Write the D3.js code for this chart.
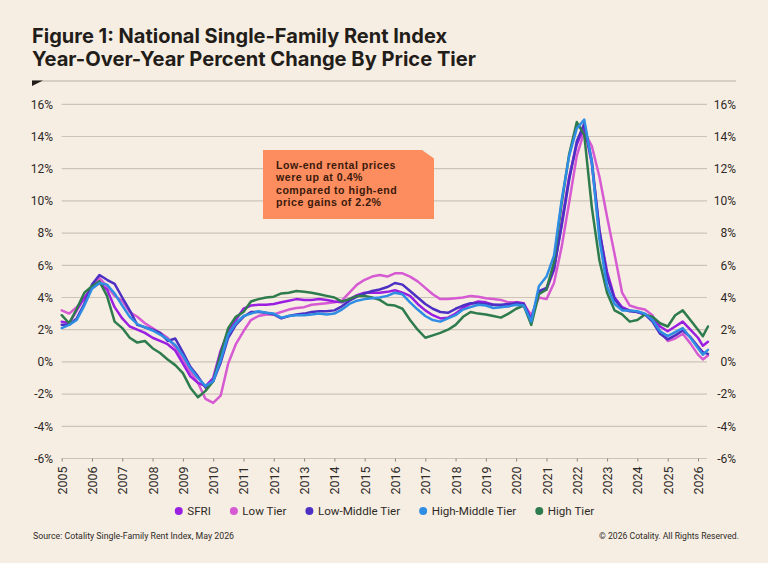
<!DOCTYPE html>
<html lang="en">
<head>
<meta charset="UTF-8">
<title>National Single-Family Rent Index - YoY by Price Tier</title>
<script src="https://d3js.org/d3.v7.min.js"></script>
<style>
  body { margin: 0; background: #f7eee3; }
  svg { display: block; }
  .title { font-family: Inter, "Liberation Sans", sans-serif; font-weight: 700; font-size: 20px; fill: #231d19; }
  .ylab { font-family: Roboto, "Liberation Sans", sans-serif; font-size: 12px; fill: #2e2a27; }
  .xlab text { font-family: Roboto, "Liberation Sans", sans-serif; font-size: 12.5px; fill: #2e2a27; }
  .legend { font-family: Roboto, "Liberation Sans", sans-serif; font-size: 11.6px; fill: #2e2a27; }
  .foot { font-family: Roboto, "Liberation Sans", sans-serif; font-size: 9.5px; fill: #2e2a27; }
  .note { font-family: "Liberation Sans", Arial, sans-serif; font-weight: 700; font-size: 10.6px; letter-spacing: 0.5px; fill: #3a1a0c; }
</style>
</head>
<body>
<div id="chart"></div>
<script>
// quarterly readings, last two points are Mar and May 2026
const months = [
  "2005-01","2005-04","2005-07","2005-10",
  "2006-01","2006-04","2006-07","2006-10",
  "2007-01","2007-04","2007-07","2007-10",
  "2008-01","2008-04","2008-07","2008-10",
  "2009-01","2009-04","2009-07","2009-10",
  "2010-01","2010-04","2010-07","2010-10",
  "2011-01","2011-04","2011-07","2011-10",
  "2012-01","2012-04","2012-07","2012-10",
  "2013-01","2013-04","2013-07","2013-10",
  "2014-01","2014-04","2014-07","2014-10",
  "2015-01","2015-04","2015-07","2015-10",
  "2016-01","2016-04","2016-07","2016-10",
  "2017-01","2017-04","2017-07","2017-10",
  "2018-01","2018-04","2018-07","2018-10",
  "2019-01","2019-04","2019-07","2019-10",
  "2020-01","2020-04","2020-07","2020-10",
  "2021-01","2021-04","2021-07","2021-10",
  "2022-01","2022-04","2022-07","2022-10",
  "2023-01","2023-04","2023-07","2023-10",
  "2024-01","2024-04","2024-07","2024-10",
  "2025-01","2025-04","2025-07","2025-10",
  "2026-01","2026-03","2026-05"
];

const sfri = [
  2.5, 2.4, 3.2, 4.0,   4.6, 4.9, 4.5, 3.4,   2.7, 2.2, 2.0, 1.8,
  1.5, 1.3, 1.1, 0.7,   -0.1, -0.9, -1.3, -1.5,   -1.0, 0.7, 1.9, 2.6,
  3.3, 3.5, 3.55, 3.55,   3.6, 3.7, 3.8, 3.9,   3.85, 3.85, 3.9, 3.85,
  3.75, 3.7, 3.9, 4.15,   4.3, 4.3, 4.3, 4.35,   4.45, 4.3, 4.1, 3.6,
  3.2, 2.9, 2.7, 2.75,   3.0, 3.35, 3.6, 3.75,   3.7, 3.55, 3.5, 3.45,
  3.7, 3.65, 2.6, 4.3,   4.5, 5.7, 8.6, 11.5,   13.5, 14.6, 12.3, 8.1,
  5.6, 4.0, 3.4, 3.2,   3.1, 2.95, 2.7, 2.2,   1.9, 2.2, 2.5, 2.0,
  1.5, 1.0, 1.25
];
const lowTier = [
  3.2, 3.0, 3.4, 3.9,   4.6, 5.2, 4.7, 4.1,   3.8, 3.1, 2.8, 2.4,
  2.1, 1.8, 1.5, 0.9,   0.2, -0.6, -1.3, -2.3,   -2.55, -2.1, -0.1, 1.1,
  1.9, 2.6, 2.85, 2.95,   2.95, 3.1, 3.25, 3.35,   3.4, 3.55, 3.6, 3.65,
  3.7, 3.8, 4.3, 4.8,   5.1, 5.3, 5.4, 5.3,   5.5, 5.5, 5.3, 5.0,
  4.6, 4.2, 3.9, 3.9,   3.95, 4.0, 4.1, 4.05,   3.95, 3.9, 3.85, 3.7,
  3.7, 3.6, 2.9, 4.0,   3.9, 4.9, 7.1, 9.9,   12.8, 14.3, 13.4, 11.5,
  9.0, 6.7, 4.3, 3.5,   3.35, 3.25, 2.9, 1.9,   1.3, 1.45, 1.75, 1.15,
  0.45, 0.15, 0.4
];
const lowMiddleTier = [
  2.3, 2.3, 2.7, 3.6,   4.8, 5.4, 5.1, 4.85,   4.0, 3.2, 2.3, 2.15,
  2.0, 1.8, 1.3, 1.45,   0.6, -0.3, -0.9, -1.6,   -1.2, -0.05, 1.5, 2.3,
  2.8, 3.1, 3.1, 3.05,   2.95, 2.7, 2.85, 2.95,   3.0, 3.1, 3.15, 3.15,
  3.2, 3.45, 3.8, 4.05,   4.25, 4.4, 4.5, 4.65,   4.9, 4.8, 4.4, 4.0,
  3.6, 3.3, 3.1, 3.05,   3.3, 3.5, 3.65, 3.65,   3.6, 3.55, 3.55, 3.6,
  3.65, 3.6, 2.6, 4.4,   4.6, 5.8, 8.4, 11.3,   13.7, 14.8, 12.5, 8.2,
  5.3, 3.9, 3.3, 3.15,   3.1, 2.95, 2.5, 1.75,   1.4, 1.65, 1.95, 1.55,
  0.95, 0.6, 0.5
];
const highMiddleTier = [
  2.1, 2.3, 2.6, 3.5,   4.55, 4.9, 4.8, 4.25,   3.5, 2.8, 2.35, 2.15,
  1.95, 1.7, 1.4, 1.05,   0.4, -0.4, -1.0, -1.5,   -1.2, 0.1, 1.7, 2.4,
  2.85, 3.0, 3.15, 3.05,   3.0, 2.75, 2.85, 2.9,   2.9, 2.95, 3.0, 2.95,
  3.0, 3.25, 3.6, 3.8,   3.9, 3.95, 4.0, 4.1,   4.3, 4.2, 3.7, 3.25,
  2.85, 2.6, 2.5, 2.7,   2.9, 3.25, 3.4, 3.55,   3.5, 3.35, 3.4, 3.45,
  3.55, 3.5, 2.5, 4.7,   5.3, 6.6, 10.0, 12.8,   14.5, 15.05, 12.4, 7.6,
  4.7, 3.6, 3.2, 3.2,   3.15, 3.0, 2.6, 1.9,   1.6, 1.85, 2.1, 1.5,
  0.85, 0.45, 0.75
];
const highTier = [
  2.9, 2.4, 3.3, 4.3,   4.7, 5.0, 4.1, 2.5,   2.1, 1.5, 1.2, 1.3,
  0.85, 0.55, 0.15, -0.2,   -0.7, -1.6, -2.2, -1.8,   -1.2, 0.5, 2.1, 2.8,
  3.1, 3.75, 3.9, 4.0,   4.05, 4.25, 4.3, 4.4,   4.35, 4.3, 4.2, 4.1,
  4.0, 3.75, 3.9, 4.1,   4.1, 4.0, 3.85, 3.55,   3.5, 3.3, 2.6, 2.0,
  1.5, 1.65, 1.8, 2.0,   2.3, 2.8, 3.1, 3.0,   2.95, 2.85, 2.75, 3.0,
  3.3, 3.5, 2.3, 4.2,   4.5, 6.2, 9.8, 12.9,   14.9, 14.1, 9.6, 6.3,
  4.3, 3.2, 2.95, 2.5,   2.6, 2.95, 2.8, 2.4,   2.2, 2.9, 3.2, 2.6,
  2.0, 1.6, 2.2
];

const seriesNames = ["SFRI", "Low Tier", "Low-Middle Tier", "High-Middle Tier", "High Tier"];
const seriesColors = ["#9a1fe0", "#d65ad2", "#4c30c4", "#2f8ee4", "#2e7b4d"];
const seriesValues = [sfri, lowTier, lowMiddleTier, highMiddleTier, highTier];
const drawOrder = [1, 0, 2, 4, 3]; // which line sits on top

const yTicks = [-6, -4, -2, 0, 2, 4, 6, 8, 10, 12, 14, 16];
const yearTicks = [2005, 2006, 2007, 2008, 2009, 2010, 2011, 2012, 2013, 2014, 2015,
                   2016, 2017, 2018, 2019, 2020, 2021, 2022, 2023, 2024, 2025, 2026];

const titleLines = ["Figure 1: National Single-Family Rent Index",
                    "Year-Over-Year Percent Change By Price Tier"];
const noteLines = ["Low-end rental prices", "were up at 0.4%",
                   "compared to high-end", "price gains of 2.2%"];
const sourceText = "Source: Cotality Single-Family Rent Index, May 2026";
const copyText = "\u00a9 2026 Cotality. All Rights Reserved.";

const W = 768, H = 563;
const plot = { left: 61.7, right: 707, x2026: 698, top: 104.3, bottom: 458.5 };

const svg = d3.select("#chart").append("svg")
    .attr("width", W)
    .attr("height", H);

svg.append("rect").attr("width", W).attr("height", H).attr("fill", "#f7eee3");

// title + rule
svg.selectAll(".title")
    .data(titleLines)
    .enter().append("text")
    .attr("class", "title")
    .attr("x", 32)
    .attr("y", (d, i) => 43 + i * 23)
    .attr("textLength", (d, i) => i === 0 ? 415 : 444)
    .attr("lengthAdjust", "spacingAndGlyphs")
    .text(d => d);

svg.append("line")
    .attr("x1", 32).attr("x2", 736)
    .attr("y1", 81).attr("y2", 81)
    .attr("stroke", "#b9afa3").attr("stroke-width", 1);
svg.append("path")
    .attr("d", "M32,80.5 L43,80.5 L32,86 Z")
    .attr("fill", "#231d19");

// scales
const parseMonth = d3.timeParse("%Y-%m");
const dates = months.map(parseMonth);

const x = d3.scaleTime()
    .domain([new Date(2005, 0, 1), new Date(2026, 0, 1)])
    .range([plot.left, plot.x2026]);

const y = d3.scaleLinear()
    .domain([-6, 16])
    .range([plot.bottom, plot.top]);

// gridlines
svg.append("g")
    .selectAll("line")
    .data(yTicks)
    .enter().append("line")
    .attr("x1", plot.left).attr("x2", plot.right)
    .attr("y1", d => y(d)).attr("y2", d => y(d))
    .attr("stroke", "#cdc4b9")
    .attr("stroke-width", 1.2);

// y labels both sides
svg.append("g")
    .selectAll("text")
    .data(yTicks)
    .enter().append("text")
    .attr("class", "ylab")
    .attr("x", 53)
    .attr("y", d => y(d))
    .attr("dy", "0.35em")
    .attr("text-anchor", "end")
    .text(d => d + "%");

svg.append("g")
    .selectAll("text")
    .data(yTicks)
    .enter().append("text")
    .attr("class", "ylab")
    .attr("x", 736)
    .attr("y", d => y(d))
    .attr("dy", "0.35em")
    .attr("text-anchor", "end")
    .text(d => d + "%");

// x axis with rotated year labels
const xAxis = svg.append("g")
    .attr("class", "xlab")
    .attr("transform", `translate(0,${y(-6)})`)
    .call(d3.axisBottom(x)
        .tickValues(yearTicks.map(yr => new Date(yr, 0, 1)))
        .tickSize(3)
        .tickFormat(d3.timeFormat("%Y")));
xAxis.select(".domain").remove();
xAxis.selectAll(".tick line").attr("stroke", "#8d857c");
xAxis.selectAll("text")
    .attr("transform", "rotate(-90)")
    .attr("text-anchor", "end")
    .attr("x", -8)
    .attr("y", 0)
    .attr("dy", "0.36em");

// lines
const line = d3.line()
    .x((d, i) => x(dates[i]))
    .y(d => y(d));

drawOrder.forEach(k => {
    svg.append("path")
        .datum(seriesValues[k])
        .attr("fill", "none")
        .attr("stroke", seriesColors[k])
        .attr("stroke-width", 2.5)
        .attr("stroke-linejoin", "round")
        .attr("stroke-linecap", "round")
        .attr("d", line);
});

// callout box with clipped corner
const box = { x: 263, y: 150, w: 171, h: 69, cut: 12 };
svg.append("path")
    .attr("d", `M${box.x},${box.y} L${box.x + box.w - box.cut},${box.y} L${box.x + box.w},${box.y + box.cut * 0.7} L${box.x + box.w},${box.y + box.h} L${box.x},${box.y + box.h} Z`)
    .attr("fill", "#fd8c5e");

svg.selectAll(".note")
    .data(noteLines)
    .enter().append("text")
    .attr("class", "note")
    .attr("x", 276)
    .attr("y", (d, i) => 169 + i * 12.3)
    .text(d => d);

// legend
const legend = svg.append("g");
let lx = 0;
seriesNames.forEach((name, k) => {
    const g = legend.append("g").attr("transform", `translate(${lx},0)`);
    g.append("circle").attr("cx", 0).attr("cy", 0).attr("r", 4).attr("fill", seriesColors[k]);
    const t = g.append("text")
        .attr("class", "legend")
        .attr("x", 8.5)
        .attr("dy", "0.36em")
        .text(name);
    lx += 8.5 + t.node().getComputedTextLength() + 23;
});
const legendW = lx - 23 + 4;
legend.attr("transform", `translate(${384.5 - legendW / 2 + 4},511)`);

// footer
svg.append("text")
    .attr("class", "foot")
    .attr("x", 33).attr("y", 539)
    .attr("textLength", 201)
    .attr("lengthAdjust", "spacingAndGlyphs")
    .text(sourceText);

svg.append("text")
    .attr("class", "foot")
    .attr("x", 599).attr("y", 539)
    .attr("textLength", 140)
    .attr("lengthAdjust", "spacingAndGlyphs")
    .text(copyText);
</script>
</body>
</html>
